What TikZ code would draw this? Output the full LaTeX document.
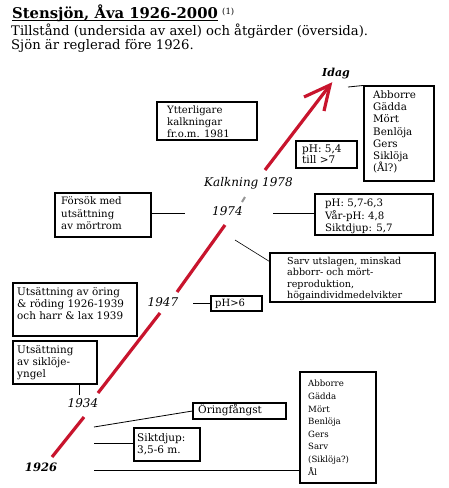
\documentclass[tikz,border=0pt]{standalone}
\usepackage{fontspec}
\setmainfont{DejaVu Serif}
\usetikzlibrary{shadows}
\definecolor{arrowred}{RGB}{200,20,45}
\definecolor{markgray}{RGB}{150,150,150}
\newcommand\bxf[2]{\fontsize{#1}{#2}\selectfont}
\newcommand\tstr{\rule{0pt}{11pt}}
\tikzset{
  box/.style={draw=black, line width=1.1pt, fill=white, inner sep=0pt,
    drop shadow={shadow xshift=1.2pt, shadow yshift=-1.2pt, fill=black, opacity=1}},
  txt/.style={inner sep=0pt, align=left, anchor=north west},
  stxt/.style={inner sep=0pt, anchor=base west},
  conn/.style={draw=black, line width=0.8pt},
  redline/.style={draw=arrowred, line width=3.2pt},
  yr/.style={inner sep=0pt, anchor=base, font=\bxf{12}{14}\itshape},
}
\begin{document}
\begin{tikzpicture}[x=1pt,y=-1pt]
\fill[white] (0,0) rectangle (448,488);
\useasboundingbox (0,0) rectangle (448,488);

% header
\node[stxt, font=\bxf{14.8}{17}\bfseries] (title) at (12,18.3) {Stensjön, Åva 1926-2000};
\node[stxt, font=\bxf{8.5}{10}] (sup1) at (222,14.5) {(1)};
\draw[line width=1.3pt] ([yshift=-2.5pt]title.base west) -- ([yshift=-2.5pt]title.base east);
\node[stxt, font=\bxf{13.2}{15}] (l2) at (11,35) {Tillstånd (undersida av axel) och åtgärder (översida).};
\node[stxt, font=\bxf{13.2}{15}] (l3) at (11,49.5) {Sjön är reglerad före 1926.};

% red time axis
\coordinate (r1a) at (52,457);
\coordinate (r1b) at (84,417);
\coordinate (r2a) at (98,393);
\coordinate (r2b) at (160,313);
\coordinate (r3a) at (177,292);
\coordinate (r3b) at (225,225);
\coordinate (g1a) at (242,202);
\coordinate (g1b) at (245,197);
\coordinate (r4a) at (265,170);
\coordinate (tip) at (330,85);
\coordinate (barbL) at (304,97);
\coordinate (barbR) at (324,111);
\draw[redline] (r1a) -- (r1b);
\draw[redline] (r2a) -- (r2b);
\draw[redline] (r3a) -- (r3b);
\draw[draw=markgray, line width=2pt] (g1a) -- (g1b);
\draw[redline] (r4a) -- (tip);
\draw[redline, line join=miter] (barbL) -- (tip) -- (barbR);

% year labels
\node[yr, font=\bxf{11}{13}\bfseries\itshape] (idag) at (336,76) {Idag};
\node[yr] (k78) at (248.5,186.5) {Kalkning 1978};
\node[yr] (y74) at (227.5,215) {1974};
\node[yr] (y47) at (163,306.7) {1947};
\node[yr] (y34) at (83,407.3) {1934};
\node[yr, font=\bxf{11.5}{14}\bfseries\itshape] (y26) at (41,471.5) {1926};

% boxes
\node[box, minimum width=100pt, minimum height=38pt] (bA) at (207,121) {};
\node[box, minimum width=61pt, minimum height=27pt] (bB) at (326.5,154.5) {};
\node[box, minimum width=70pt, minimum height=95pt] (bC) at (399,133.5) {};
\node[box, minimum width=96pt, minimum height=44pt] (bD) at (103,215) {};
\node[box, minimum width=118pt, minimum height=41pt] (bE) at (374,214.5) {};
\node[box, minimum width=165pt, minimum height=49pt] (bF) at (352.5,277.5) {};
\node[box, minimum width=51pt, minimum height=15pt] (bG) at (236.5,303.5) {};
\node[box, minimum width=124pt, minimum height=53pt] (bH) at (75,309.5) {};
\node[box, minimum width=84pt, minimum height=43pt] (bI) at (55,362.5) {};
\node[box, minimum width=93pt, minimum height=16pt] (bJ) at (239.5,411) {};
\node[box, minimum width=66pt, minimum height=33pt] (bK) at (167,444.5) {};
\node[box, minimum width=76pt, minimum height=111pt] (bL) at (338,427.5) {};

% box texts
\node[txt, font=\bxf{10.1}{12}] (tA) at (167,102.5) {\tstr Ytterligare\\kalkningar\\fr.o.m. 1981};
\node[txt, font=\bxf{10.5}{11}] (tB) at (302,141.5) {\tstr pH: 5,4\\till >7};
\node[txt, font=\bxf{10.3}{12.23}] (tC) at (373,87.3) {\tstr Abborre\\Gädda\\Mört\\Benlöja\\Gers\\Siklöja\\(Ål?)};
\node[txt, font=\bxf{10.2}{12.5}] (tD) at (61,193.5) {\tstr Försök med\\utsättning\\av mörtrom};
\node[txt, font=\bxf{10.2}{12.8}] (tE) at (325,195) {\tstr pH: 5,7-6,3\\Vår-pH: 4,8\\Siktdjup: 5,7};
\node[txt, font=\bxf{9.6}{11.4}] (tF) at (287,253) {\tstr Sarv utslagen, minskad\\abborr- och mört-\\reproduktion,\\högaindividmedelvikter};
\node[stxt, font=\bxf{10}{12}] (tG) at (215,306) {pH>6};
\node[txt, font=\bxf{10.4}{12.2}] (tH) at (17,284) {\tstr Utsättning av öring\\\& röding 1926-1939\\och harr \& lax 1939};
\node[txt, font=\bxf{10.4}{12}] (tI) at (17,342.3) {\tstr Utsättning\\av siklöje-\\yngel};
\node[stxt, font=\bxf{10.5}{12}] (tJ) at (198,413.3) {Öringfångst};
\node[txt, font=\bxf{10.5}{12.3}] (tK) at (137,430) {\tstr Siktdjup:\\3,5-6 m.};
\node[txt, font=\bxf{8.6}{12.6}] (tL) at (308,375.7) {\tstr Abborre\\Gädda\\Mört\\Benlöja\\Gers\\Sarv\\(Siklöja?)\\Ål};

% connectors
\coordinate (ci) at (348,87);
\coordinate (cD) at (185,213);
\coordinate (cE) at (273,213);
\coordinate (cF) at (235,240);
\coordinate (cG) at (193,303.5);
\coordinate (cI) at (79,395);
\coordinate (cJ) at (94,427);
\coordinate (cK) at (94,443);
\coordinate (cL) at (94,470.5);
\draw[conn] (ci) -- (bC.north west);
\draw[conn] (bD.east |- cD) -- (cD);
\draw[conn] (cE) -- (cE -| bE.west);
\draw[conn, line width=0.6pt] (cF) -- ([yshift=-9pt]bF.north west);
\draw[conn] (cG) -- (bG.west);
\draw[conn] (cI) -- (cI |- bI.south);
\draw[conn] (cJ) -- (bJ.west);
\draw[conn] (cK) -- (cK -| bK.west);
\draw[conn] (cL) -- (cL -| bL.west);
\end{tikzpicture}
\end{document}
